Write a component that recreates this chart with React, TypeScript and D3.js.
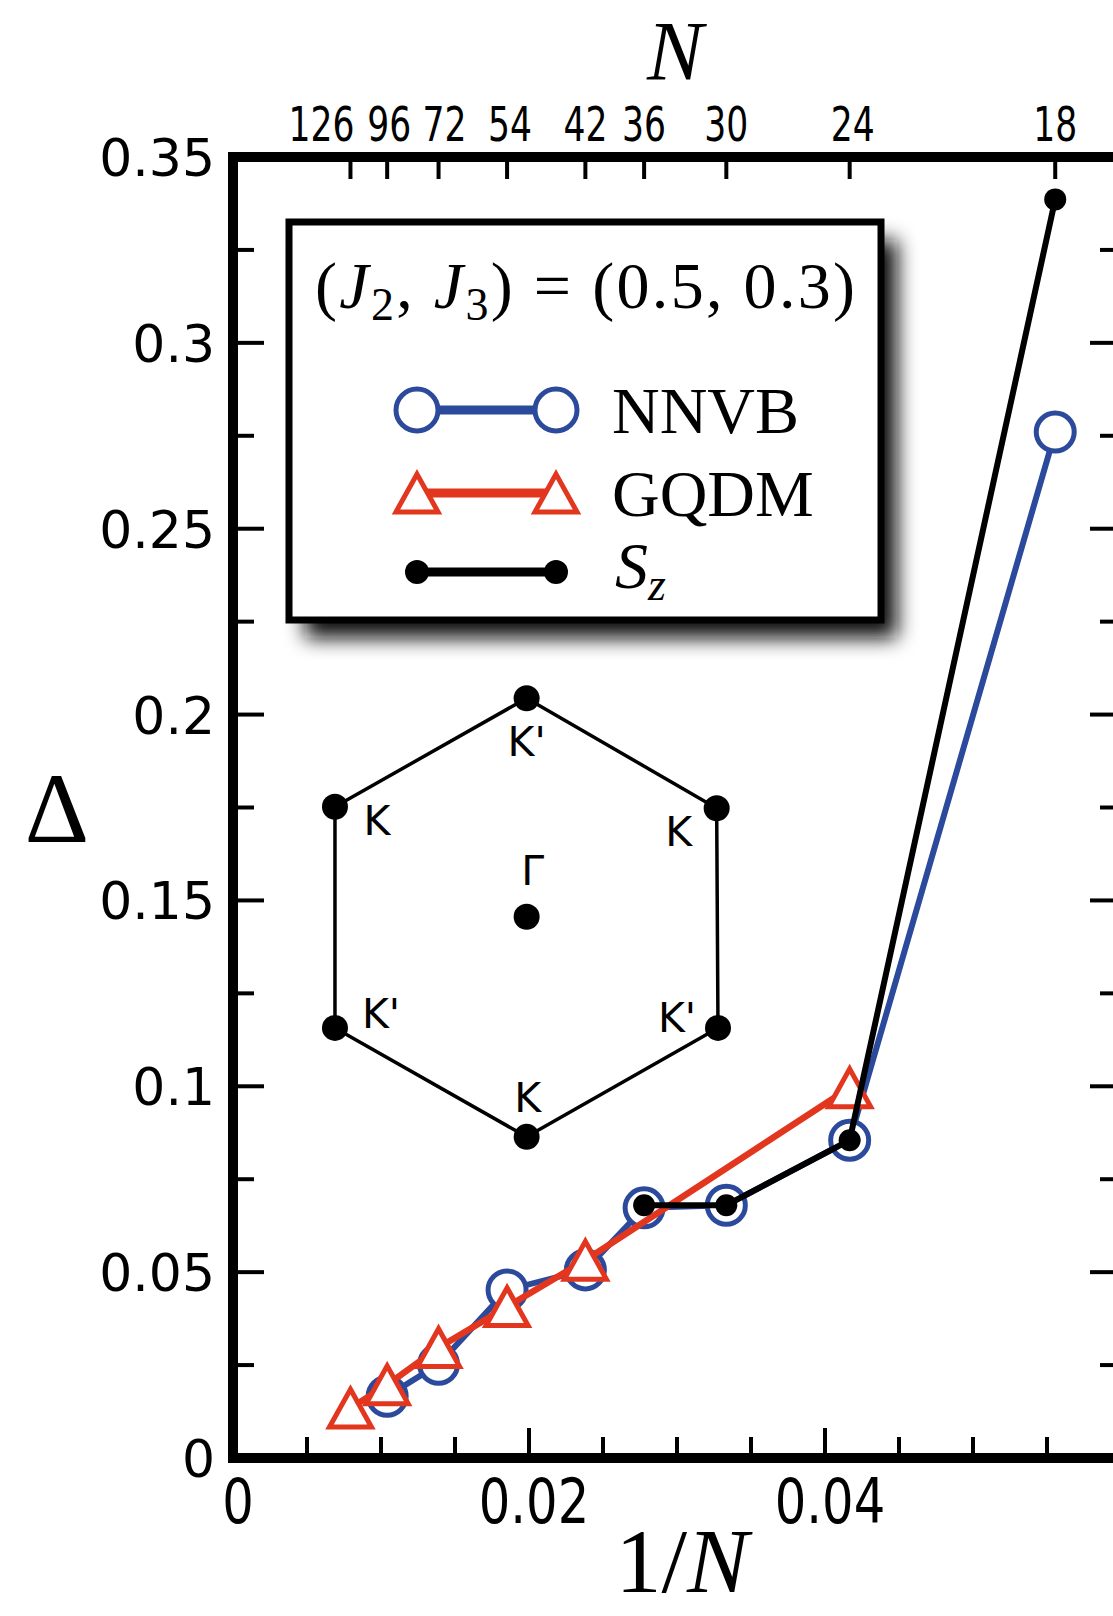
import React from 'react';
import * as d3 from 'd3';

// system sizes N and the gaps
const sizesN = [126, 96, 72, 54, 42, 36, 30, 24, 18];
const nnvbN = [96, 72, 54, 42, 36, 30, 24, 18];
const nnvbGap = [0.0166, 0.0252, 0.0452, 0.0506, 0.0673, 0.068, 0.0855, 0.276];
const gqdmN = [126, 96, 72, 54, 42, 24];
const gqdmGap = [0.0134, 0.0197, 0.0297, 0.0407, 0.0532, 0.0996];
const szN = [36, 30, 24, 18];
const szGap = [0.068, 0.068, 0.0855, 0.3386];

const yTickLabels = ['0', '0.05', '0.1', '0.15', '0.2', '0.25', '0.3', '0.35'];
const xTickLabels = ['0', '0.02', '0.04'];

// Brillouin-zone inset, in data units (1/N, Delta)
const bzCorners = [
  { label: "K'", x: 0.01984, y: 0.2044 },
  { label: 'K', x: 0.03268, y: 0.1748 },
  { label: "K'", x: 0.03277, y: 0.1157 },
  { label: 'K', x: 0.01984, y: 0.0864 },
  { label: "K'", x: 0.00689, y: 0.1157 },
  { label: 'K', x: 0.00689, y: 0.1752 },
];
const bzCenter = { label: 'Γ', x: 0.01984, y: 0.1456 };
// where each corner label sits relative to its dot (px)
const bzLabelOffset = [
  [0, 58], [-38, 38], [-41, 4], [1, -25], [46, 0], [42, 28],
];
// top-axis label nudges (px) where labels would collide
const nLabelShift: Record<number, number> = { 126: -29, 96: 2, 72: 6, 54: 3, 24: 3 };

const W = 1113;
const H = 1616;
const BLUE = '#2c4a9c';
const RED = '#e2361f';
const SANS = "'DejaVu Sans', sans-serif";
const SERIF = "'Liberation Serif', 'DejaVu Serif', serif";

const x = d3.scaleLinear().domain([0, 0.06]).range([233, 1121]);
const y = d3.scaleLinear().domain([0, 0.35]).range([1458, 157]);

const line = d3.line<[number, number]>()
  .x(d => x(d[0]))
  .y(d => y(d[1]));

const toPts = (ns: number[], vals: number[]): [number, number][] =>
  ns.map((n, i) => [1 / n, vals[i]]);

const tri = (r: number) => `M0,${-r * 0.9} L${r},${r * 0.9} L${-r},${r * 0.9} Z`;

const App = () => {
  const [x0, x1] = x.range();
  const [yb, yt] = y.range();
  const yTicks = d3.range(15).map(i => i * 0.025);
  const xTicks = d3.range(13).map(i => i * 0.005);

  const nnvb = toPts(nnvbN, nnvbGap);
  const gqdm = toPts(gqdmN, gqdmGap);
  const sz = toPts(szN, szGap);

  const legend = { left: 289, top: 222, right: 881, bottom: 620 };
  const legRows = [410, 493, 572];
  const legX = [417, 556];

  return (
    <svg width={W} height={H} style={{ position: 'absolute', left: 0, top: 0, background: '#fff' }}>
      <defs>
        <filter id="blur" x="-20%" y="-20%" width="140%" height="140%">
          <feGaussianBlur stdDeviation="10" />
        </filter>
      </defs>
      <rect x={0} y={0} width={W} height={H} fill="#fff" />

      {/* hexagon inset */}
      <g>
        <path
          d={d3.line<{ x: number; y: number }>().x(d => x(d.x)).y(d => y(d.y))(bzCorners) + 'Z'}
          fill="none" stroke="#000" strokeWidth={3.5}
        />
        {bzCorners.map((c, i) => (
          <g key={i}>
            <circle cx={x(c.x)} cy={y(c.y)} r={13} fill="#000" />
            <text x={x(c.x) + bzLabelOffset[i][0]} y={y(c.y) + bzLabelOffset[i][1]}
              textAnchor="middle" fontFamily={SANS} fontSize={41}>{c.label}</text>
          </g>
        ))}
        <circle cx={x(bzCenter.x)} cy={y(bzCenter.y)} r={13} fill="#000" />
        <text x={x(bzCenter.x) + 6} y={y(bzCenter.y) - 32} textAnchor="middle"
          fontFamily={SANS} fontSize={41}>{bzCenter.label}</text>
      </g>

      {/* NNVB */}
      <path d={line(nnvb) || ''} fill="none" stroke={BLUE} strokeWidth={6} />
      {nnvb.map((p, i) => (
        <circle key={i} cx={x(p[0])} cy={y(p[1])} r={19} fill="#fff" stroke={BLUE} strokeWidth={5} />
      ))}

      {/* GQDM */}
      <path d={line(gqdm) || ''} fill="none" stroke={RED} strokeWidth={6.5} />
      {gqdm.map((p, i) => (
        <path key={i} d={tri(21)} transform={`translate(${x(p[0])},${y(p[1])})`}
          fill="#fff" stroke={RED} strokeWidth={5} strokeLinejoin="miter" />
      ))}

      {/* Sz */}
      <path d={line(sz) || ''} fill="none" stroke="#000" strokeWidth={6} />
      {sz.map((p, i) => (
        <circle key={i} cx={x(p[0])} cy={y(p[1])} r={11} fill="#000" />
      ))}

      {/* legend */}
      <rect x={legend.left + 16} y={legend.top + 18} width={legend.right - legend.left}
        height={legend.bottom - legend.top} fill="#111" filter="url(#blur)" />
      <rect x={legend.left} y={legend.top} width={legend.right - legend.left}
        height={legend.bottom - legend.top} fill="#fff" stroke="#000" strokeWidth={7} />
      <text x={(legend.left + legend.right) / 2} y={308} textAnchor="middle"
        fontFamily={SERIF} fontSize={66} textLength={540} lengthAdjust="spacing">
        (<tspan fontStyle="italic">J</tspan><tspan fontSize={46} dy={12}>2</tspan>
        <tspan dy={-12}>, </tspan><tspan fontStyle="italic">J</tspan>
        <tspan fontSize={46} dy={12}>3</tspan><tspan dy={-12}>) = (0.5, 0.3)</tspan>
      </text>
      {/* legend: NNVB */}
      <line x1={legX[0]} x2={legX[1]} y1={legRows[0]} y2={legRows[0]} stroke={BLUE} strokeWidth={9} />
      {legX.map((lx, i) => (
        <circle key={i} cx={lx} cy={legRows[0]} r={21} fill="#fff" stroke={BLUE} strokeWidth={5} />
      ))}
      <text x={612} y={433} fontFamily={SERIF} fontSize={66}>NNVB</text>
      {/* legend: GQDM */}
      <line x1={legX[0]} x2={legX[1]} y1={legRows[1]} y2={legRows[1]} stroke={RED} strokeWidth={9} />
      {legX.map((lx, i) => (
        <path key={i} d={tri(21)} transform={`translate(${lx},${legRows[1]})`}
          fill="#fff" stroke={RED} strokeWidth={5} />
      ))}
      <text x={612} y={516} fontFamily={SERIF} fontSize={66}>GQDM</text>
      {/* legend: Sz */}
      <line x1={legX[0]} x2={legX[1]} y1={legRows[2]} y2={legRows[2]} stroke="#000" strokeWidth={9} />
      {legX.map((lx, i) => (
        <circle key={i} cx={lx} cy={legRows[2]} r={12} fill="#000" />
      ))}
      <text x={615} y={588} fontFamily={SERIF} fontSize={66} fontStyle="italic">
        S<tspan fontSize={46} dy={12}>z</tspan>
      </text>

      {/* ticks */}
      {yTicks.map((t, i) => {
        const len = i % 2 === 0 ? 31 : 21;
        return (
          <g key={'y' + i} stroke="#000" strokeWidth={4}>
            <line x1={x0} x2={x0 + len} y1={y(t)} y2={y(t)} />
            <line x1={x1} x2={x1 - len} y1={y(t)} y2={y(t)} />
          </g>
        );
      })}
      {xTicks.map((t, i) => {
        const len = i % 4 === 0 ? 30 : 21;
        return <line key={'x' + i} x1={x(t)} x2={x(t)} y1={yb} y2={yb - len} stroke="#000" strokeWidth={4} />;
      })}
      {sizesN.map(n => (
        <line key={'n' + n} x1={x(1 / n)} x2={x(1 / n)} y1={yt} y2={yt + 22} stroke="#000" strokeWidth={4} />
      ))}

      {/* frame */}
      <rect x={x0} y={yt} width={x1 - x0} height={yb - yt} fill="none" stroke="#000" strokeWidth={10} />

      {/* tick labels */}
      {yTickLabels.map((lab, i) => (
        <text key={lab} x={215} y={y(i * 0.05) + 19} textAnchor="end"
          fontFamily={SANS} fontSize={52}>{lab}</text>
      ))}
      {xTickLabels.map((lab, i) => (
        <text key={lab} transform={`translate(${x(i * 0.02) + 5},${1523}) scale(0.8,1)`}
          textAnchor="middle" fontFamily={SANS} fontSize={62}>{lab}</text>
      ))}
      {sizesN.map(n => (
        <text key={'nl' + n} transform={`translate(${x(1 / n) + (nLabelShift[n] || 0)},${141}) scale(0.72,1)`}
          textAnchor="middle" fontFamily={SANS} fontSize={48}>{n}</text>
      ))}

      {/* axis titles */}
      <text x={675} y={80} textAnchor="middle" fontFamily={SERIF} fontSize={84} fontStyle="italic">N</text>
      <text x={682} y={1592} textAnchor="middle" fontFamily={SERIF} fontSize={92}>
        1/<tspan fontStyle="italic">N</tspan>
      </text>
      <text x={57} y={842} textAnchor="middle" fontFamily={SERIF} fontSize={100}>Δ</text>
    </svg>
  );
};

export default App;
